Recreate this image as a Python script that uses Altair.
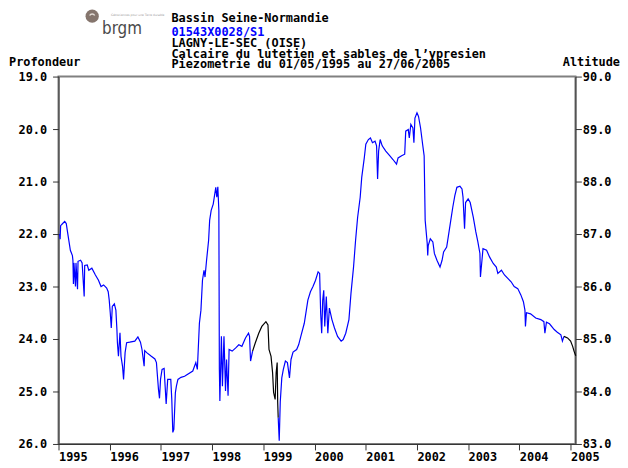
import altair as alt
import pandas as pd

# ---- header texts ----
header_region = "Bassin Seine-Normandie"
header_code = "01543X0028/S1"
header_place = "LAGNY-LE-SEC (OISE)"
header_aquifer = "Calcaire du lutetien et sables de l\u2019ypresien"
header_period = "Piezometrie du 01/05/1995 au 27/06/2005"
left_title = "Profondeur"
right_title = "Altitude"
logo_text = "brgm"
logo_tag = "G\u00e9osciences pour une Terre durable"

# ---- axis ticks ----
depth_ticks = [19, 20, 21, 22, 23, 24, 25, 26]
alt_ticks = [83, 84, 85, 86, 87, 88, 89, 90]
tick_years = [1995, 1996, 1997, 1998, 1999, 2000, 2001, 2002, 2003, 2004, 2005]

# ---- series (decimal year, depth in m) ----
# segment A : validated (blue)
a_t = [1995.35, 1995.36, 1995.37, 1995.41, 1995.45, 1995.48, 1995.50, 1995.53, 1995.56, 1995.60,
       1995.61, 1995.62, 1995.63, 1995.66, 1995.67, 1995.70, 1995.71, 1995.76, 1995.79, 1995.83,
       1995.84, 1995.89, 1995.92, 1995.98, 1996.05, 1996.11, 1996.16, 1996.21, 1996.27, 1996.30,
       1996.32, 1996.34, 1996.36, 1996.38, 1996.42, 1996.45, 1996.47, 1996.48, 1996.50, 1996.53,
       1996.55, 1996.58, 1996.60, 1996.63, 1996.66, 1996.72, 1996.82, 1996.88, 1996.93, 1996.96,
       1997.00, 1997.01, 1997.05, 1997.14, 1997.21, 1997.24, 1997.26, 1997.28, 1997.30, 1997.32,
       1997.35, 1997.39, 1997.41, 1997.43, 1997.46, 1997.52, 1997.54, 1997.56, 1997.58, 1997.61,
       1997.63, 1997.66, 1997.72, 1997.79, 1997.82, 1997.95, 1998.01, 1998.04, 1998.08, 1998.11,
       1998.14, 1998.17, 1998.19, 1998.22, 1998.26, 1998.28, 1998.31, 1998.35, 1998.37, 1998.40,
       1998.42, 1998.44, 1998.46, 1998.47, 1998.48, 1998.51, 1998.53, 1998.56, 1998.59, 1998.61,
       1998.64, 1998.66, 1998.72, 1998.79, 1998.85, 1998.91, 1998.98, 1999.04, 1999.06, 1999.08,
       1999.12]
a_d = [22.00, 22.10, 21.84, 21.80, 21.76, 21.80, 21.93, 22.12, 22.31, 22.41,
       22.50, 22.95, 22.55, 23.00, 22.55, 23.05, 22.52, 22.50, 22.55, 23.19,
       22.60, 22.59, 22.69, 22.65, 22.78, 22.88, 23.00, 22.97, 23.03, 23.10,
       23.26, 23.50, 23.79, 23.38, 23.33, 23.45, 23.82, 24.07, 24.33, 23.88,
       24.33, 24.52, 24.77, 24.26, 24.07, 24.06, 24.04, 23.96, 24.06, 24.20,
       24.52, 24.22, 24.26, 24.33, 24.38, 24.45, 24.71, 24.96, 25.13, 24.77,
       24.58, 24.56, 24.90, 25.24, 24.77, 24.77, 25.15, 25.78, 25.72, 25.02,
       24.90, 24.77, 24.73, 24.71, 24.69, 24.61, 24.45, 24.58, 23.70, 23.45,
       22.88, 22.69, 22.82, 22.50, 22.12, 21.74, 21.55, 21.43, 21.30, 21.11,
       21.30, 21.10, 21.55, 24.58, 25.18, 23.95, 24.90, 23.95, 24.99, 24.39,
       25.08, 24.20, 24.23, 24.17, 24.11, 24.14, 23.98, 23.89, 23.95, 24.42,
       24.23]
# segment B : not validated (black)
b_t = [1999.12, 1999.17, 1999.24, 1999.30, 1999.38, 1999.42, 1999.44, 1999.48, 1999.51, 1999.53,
       1999.56, 1999.58, 1999.60, 1999.61, 1999.62]
b_d = [24.23, 24.08, 23.89, 23.76, 23.67, 23.73, 24.20, 24.33, 24.64, 25.02,
       25.15, 24.64, 24.45, 25.21, 25.50]
# segment C : validated (blue)
c_t = [1999.62, 1999.64, 1999.66, 1999.69, 1999.72, 1999.76, 1999.80, 1999.84, 1999.87, 1999.91,
       1999.98, 2000.02, 2000.07, 2000.13, 2000.17, 2000.20, 2000.25, 2000.30, 2000.35, 2000.40,
       2000.43, 2000.45, 2000.47, 2000.49, 2000.51, 2000.53, 2000.56, 2000.59, 2000.62, 2000.67,
       2000.72, 2000.78, 2000.85, 2000.89, 2000.94, 2001.00, 2001.04, 2001.09, 2001.13, 2001.17,
       2001.22, 2001.25, 2001.30, 2001.33, 2001.38, 2001.42, 2001.46, 2001.51, 2001.54, 2001.56,
       2001.58, 2001.61, 2001.65, 2001.72, 2001.80, 2001.86, 2001.93, 2001.96, 2002.03, 2002.09,
       2002.11, 2002.16, 2002.18, 2002.21, 2002.25, 2002.27, 2002.29, 2002.33, 2002.36, 2002.40,
       2002.44, 2002.47, 2002.49, 2002.53, 2002.54, 2002.55, 2002.59, 2002.64, 2002.67, 2002.72,
       2002.78, 2002.82, 2002.85, 2002.91, 2002.94, 2002.99, 2003.03, 2003.07, 2003.11, 2003.17,
       2003.21, 2003.23, 2003.26, 2003.28, 2003.33, 2003.37, 2003.43, 2003.48, 2003.52, 2003.56,
       2003.57, 2003.60, 2003.62, 2003.69, 2003.75, 2003.82, 2003.88, 2003.91, 2003.98, 2004.04,
       2004.11, 2004.17, 2004.23, 2004.30, 2004.36, 2004.41, 2004.44, 2004.45, 2004.47, 2004.55,
       2004.65, 2004.75, 2004.81, 2004.83, 2004.86, 2004.92, 2005.01, 2005.07, 2005.14, 2005.17,
       2005.20]
c_d = [25.50, 25.94, 25.20, 24.74, 24.58, 24.42, 24.45, 24.74, 24.39, 24.25,
       24.20, 24.11, 23.92, 23.70, 23.45, 23.26, 23.10, 23.00, 22.88, 22.72,
       22.75, 23.51, 23.89, 23.26, 23.07, 23.76, 23.19, 23.89, 23.41, 23.63,
       23.79, 23.95, 24.04, 24.01, 23.89, 23.63, 23.13, 22.63, 22.12, 21.68,
       21.30, 20.92, 20.55, 20.29, 20.20, 20.17, 20.26, 20.23, 20.32, 20.95,
       20.42, 20.20, 20.32, 20.42, 20.51, 20.58, 20.67, 20.55, 20.51, 20.48,
       20.04, 20.01, 20.17, 19.91, 19.98, 20.26, 19.79, 19.69, 19.76, 19.98,
       20.29, 20.51, 21.74, 22.18, 22.41, 22.22, 22.09, 22.15, 22.37, 22.50,
       22.63, 22.50, 22.34, 22.25, 22.06, 21.74, 21.49, 21.27, 21.11, 21.09,
       21.14, 21.30, 21.90, 21.40, 21.33, 21.40, 21.68, 21.96, 22.15, 22.37,
       22.82, 22.50, 22.28, 22.31, 22.44, 22.56, 22.63, 22.75, 22.69, 22.78,
       22.85, 22.91, 23.00, 23.04, 23.16, 23.29, 23.45, 23.76, 23.50, 23.52,
       23.60, 23.63, 23.67, 23.89, 23.68, 23.71, 23.82, 23.87, 23.92, 24.04,
       23.95]
# segment D : not validated (black)
d_t = [2005.20, 2005.27, 2005.33, 2005.37, 2005.40, 2005.43]
d_d = [23.95, 23.98, 24.04, 24.14, 24.24, 24.32]

seg_names = ["A", "B", "C", "D"]
seg_colors = ["#0000ff", "#000000", "#0000ff", "#000000"]

MONO = "DejaVu Sans Mono"


def to_dates(ts):
    out = []
    for t in ts:
        y = int(t)
        out.append(pd.Timestamp(year=y, month=1, day=1) + pd.Timedelta(days=(t - y) * 365.25))
    return out


frames = []
for name, ts, ds in zip(seg_names, [a_t, b_t, c_t, d_t], [a_d, b_d, c_d, d_d]):
    n = min(len(ts), len(ds))
    frames.append(pd.DataFrame({"date": to_dates(ts[:n]), "depth": ds[:n], "seg": name}))
df = pd.concat(frames, ignore_index=True)
df["altitude"] = 109.0 - df["depth"]
df["order"] = range(len(df))

x_enc = alt.X(
    "date:T",
    scale=alt.Scale(domain=[alt.DateTime(year=1995, month=5, date=1),
                            alt.DateTime(year=2005, month=6, date=5)]),
    axis=alt.Axis(
        values=[alt.DateTime(year=y, month=5, date=1) for y in tick_years],
        format="%Y", title=None, grid=False, labelAlign="left", labelBaseline="top",
        labelPadding=2, tickSize=6, labelFlush=False, labelOverlap=False,
    ),
)

line = alt.Chart(df).mark_line(strokeWidth=1.2, interpolate="linear").encode(
    x=x_enc,
    y=alt.Y("depth:Q",
            scale=alt.Scale(domain=[19, 26], reverse=True, nice=False, zero=False),
            axis=alt.Axis(values=depth_ticks, format=".1f", title=None, grid=False,
                          orient="left", tickSize=6, labelPadding=6)),
    color=alt.Color("seg:N", scale=alt.Scale(domain=seg_names, range=seg_colors), legend=None),
    order="order:Q",
)

right = alt.Chart(df).mark_line(opacity=0).encode(
    x="date:T",
    y=alt.Y("altitude:Q",
            scale=alt.Scale(domain=[83, 90], nice=False, zero=False),
            axis=alt.Axis(values=alt_ticks, format=".1f", title=None, grid=False,
                          orient="right", tickSize=6, labelPadding=1)),
)


def txt(s, x, y, color="#000000", size=12, font=MONO, align="left", weight="bold"):
    return alt.Chart(pd.DataFrame({"t": [s]})).mark_text(
        align=align, baseline="alphabetic", font=font, fontSize=size,
        color=color, fontWeight=weight,
    ).encode(text="t:N", x=alt.value(x), y=alt.value(y))


texts = [
    txt(header_region, 114, -55),
    txt(header_code, 114, -40.7, color="#0000ff"),
    txt(header_place, 114, -30),
    txt(header_aquifer, 114, -18.3),
    txt(header_period, 114, -8.3),
    txt(left_title, -50, -11),
    txt(right_title, 567, -11, align="right"),
    txt(logo_text, 44, -43, color="#4a4a4a", size=17,
        font="DejaVu Sans Condensed, DejaVu Sans, sans-serif", weight="normal"),
    txt(logo_tag, 53, -61, color="#9a9a9a", size=3, font="DejaVu Sans", weight="normal"),
]

logo = alt.Chart(pd.DataFrame({"k": [0]})).mark_circle(
    size=180, color="#85756d", opacity=1
).encode(x=alt.value(34), y=alt.value(-61))

logo_hi = alt.Chart(pd.DataFrame({"k": [0]})).mark_point(
    size=40, shape="M -0.8 0.1 A 0.9 0.9 0 0 1 0.8 0.1", color="#e4dcd6",
    opacity=1, filled=False, strokeWidth=1.5
).encode(x=alt.value(34), y=alt.value(-62))

chart = alt.layer(line, right, logo, logo_hi, *texts).resolve_scale(y="independent").properties(
    width=522, height=371,
    autosize=alt.AutoSizeParams(type="none"),
    padding={"left": 51, "top": 67, "right": 45, "bottom": 20},
    background="#ffffff",
).configure_view(
    stroke="#808080", strokeWidth=2
).configure_axis(
    labelFont=MONO, labelFontSize=12, labelColor="#000000", labelFontWeight="bold",
    domainColor="#333333", tickColor="#333333", domainWidth=1, tickWidth=1,
)

chart.save("out.html", embed_options={"renderer": "svg", "actions": False})
